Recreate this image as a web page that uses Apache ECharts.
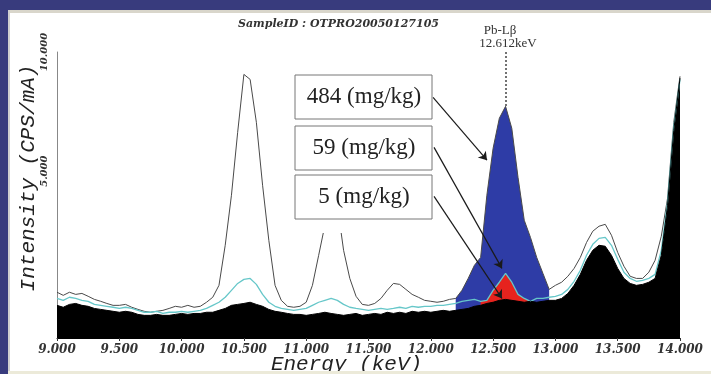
<!DOCTYPE html>
<html>
<head>
<meta charset="utf-8">
<script src="https://cdn.jsdelivr.net/npm/echarts@6/dist/echarts.min.js"></script>
<style>
  html, body { margin: 0; padding: 0; background: #fff; }
  #chart { width: 711px; height: 374px; }
</style>
</head>
<body>
<div id="chart"></div>
<script>
// energy channels (keV)
const energy = [
  9.00, 9.05, 9.10, 9.15, 9.20, 9.25, 9.30, 9.35, 9.40, 9.45,
  9.50, 9.55, 9.60, 9.65, 9.70, 9.75, 9.80, 9.85, 9.90, 9.95,
  10.00, 10.05, 10.10, 10.15, 10.20, 10.25, 10.30, 10.35, 10.40, 10.45,
  10.50, 10.55, 10.60, 10.65, 10.70, 10.75, 10.80, 10.85, 10.90, 10.95,
  11.00, 11.05, 11.10, 11.15, 11.20, 11.25, 11.30, 11.35, 11.40, 11.45,
  11.50, 11.55, 11.60, 11.65, 11.70, 11.75, 11.80, 11.85, 11.90, 11.95,
  12.00, 12.05, 12.10, 12.15, 12.20, 12.25, 12.30, 12.35, 12.40, 12.45,
  12.50, 12.55, 12.60, 12.65, 12.70, 12.75, 12.80, 12.85, 12.90, 12.95,
  13.00, 13.05, 13.10, 13.15, 13.20, 13.25, 13.30, 13.35, 13.40, 13.45,
  13.50, 13.55, 13.60, 13.65, 13.70, 13.75, 13.80, 13.85, 13.90, 13.95,
  14.00
];

// 484 mg/kg spectrum (grey line)
const spec484 = [
  -0.08, -0.21, -0.08, -0.17, -0.13, -0.25, -0.38, -0.46, -0.55, -0.63,
  -0.63, -0.59, -0.71, -0.80, -0.88, -0.92, -0.88, -0.84, -0.76, -0.67,
  -0.71, -0.63, -0.71, -0.67, -0.50, -0.29, 0.21, 1.89, 3.99, 6.63,
  9.06, 8.85, 7.05, 4.41, 2.10, 0.21, -0.42, -0.67, -0.71, -0.67,
  -0.50, 0.21, 1.47, 2.73, 3.99, 3.57, 1.68, 0.50, -0.25, -0.59,
  -0.63, -0.55, -0.34, 0.00, 0.29, 0.25, 0.04, -0.17, -0.29, -0.42,
  -0.46, -0.50, -0.46, -0.38, -0.34, 0.00, 0.50, 1.05, 1.38, 3.99,
  5.96, 7.22, 7.72, 6.80, 4.74, 2.94, 2.22, 1.38, 0.71, 0.04,
  0.21, 0.34, 0.59, 0.92, 1.38, 2.01, 2.48, 2.69, 2.77, 2.31,
  1.59, 1.01, 0.59, 0.50, 0.50, 0.76, 1.26, 2.27, 3.86, 7.05,
  8.98
];

// 59 mg/kg spectrum (cyan line)
const spec59 = [
  -0.34, -0.42, -0.29, -0.34, -0.42, -0.46, -0.59, -0.63, -0.67, -0.71,
  -0.76, -0.71, -0.76, -0.84, -0.92, -0.92, -0.88, -0.97, -0.92, -0.92,
  -0.88, -0.92, -0.88, -0.84, -0.76, -0.63, -0.50, -0.29, 0.00, 0.29,
  0.46, 0.50, 0.25, -0.17, -0.50, -0.67, -0.76, -0.80, -0.84, -0.80,
  -0.76, -0.63, -0.50, -0.42, -0.34, -0.42, -0.59, -0.71, -0.76, -0.80,
  -0.84, -0.80, -0.76, -0.80, -0.76, -0.71, -0.76, -0.67, -0.71, -0.67,
  -0.67, -0.63, -0.63, -0.59, -0.55, -0.46, -0.42, -0.38, -0.46, -0.42,
  0.00, 0.34, 0.71, 0.34, -0.17, -0.34, -0.46, -0.34, -0.34, -0.29,
  -0.25, -0.17, 0.04, 0.38, 0.84, 1.47, 1.93, 2.18, 2.22, 1.89,
  1.30, 0.76, 0.50, 0.38, 0.42, 0.50, 0.67, 1.68, 3.69, 6.84,
  8.85
];

// 5 mg/kg spectrum (black fill)
const spec5 = [
  -0.63, -0.71, -0.59, -0.55, -0.63, -0.67, -0.76, -0.80, -0.84, -0.88,
  -0.92, -0.88, -0.92, -1.01, -1.05, -1.05, -1.01, -1.05, -1.05, -1.01,
  -0.97, -1.01, -0.97, -0.97, -0.92, -0.92, -0.84, -0.76, -0.63, -0.59,
  -0.55, -0.50, -0.59, -0.67, -0.80, -0.88, -0.92, -0.97, -1.01, -1.01,
  -1.05, -1.01, -0.97, -0.92, -0.97, -1.01, -1.05, -1.01, -0.97, -1.05,
  -1.01, -0.97, -1.01, -0.92, -0.97, -0.92, -0.97, -0.88, -0.92, -0.88,
  -0.92, -0.88, -0.84, -0.88, -0.84, -0.80, -0.76, -0.67, -0.63, -0.55,
  -0.50, -0.42, -0.38, -0.42, -0.46, -0.50, -0.46, -0.50, -0.46, -0.42,
  -0.42, -0.34, -0.13, 0.21, 0.67, 1.26, 1.68, 1.89, 1.85, 1.47,
  0.92, 0.50, 0.29, 0.21, 0.25, 0.34, 0.50, 1.47, 3.57, 6.71,
  8.90
];

// Pb-Lb peak regions
const peak484Energy = [12.20, 12.25, 12.30, 12.35, 12.40, 12.45, 12.50, 12.55, 12.60, 12.65, 12.70, 12.75, 12.80, 12.85, 12.90, 12.95];
const peak484 = [-0.34, 0.00, 0.50, 1.05, 1.38, 3.99, 5.96, 7.22, 7.72, 6.80, 4.74, 2.94, 2.22, 1.38, 0.71, 0.04];
const peak59Energy = [12.40, 12.45, 12.50, 12.55, 12.60, 12.65, 12.70, 12.75, 12.80];
const peak59 = [-0.46, -0.42, 0.00, 0.34, 0.71, 0.34, -0.17, -0.34, -0.46];

const boxLabels = ['484 (mg/kg)', '59 (mg/kg)', '5 (mg/kg)'];
const xTicks = [9, 9.5, 10, 10.5, 11, 11.5, 12, 12.5, 13, 13.5, 14];
const yTicks = [5, 10];

const pairs = (xs, ys) => xs.map((x, i) => [x, ys[i]]);

const chart = echarts.init(document.getElementById('chart'), null, { renderer: 'canvas' });

const labelFont = { fontFamily: 'DejaVu Serif', fontStyle: 'italic', fontWeight: 'bold', color: '#333' };

// arrows from the label boxes to the peaks (data coords)
const arrows = [
  [[12.018, 8.10], [12.451, 5.46]],
  [[12.026, 6.00], [12.571, 0.92]],
  [[12.026, 3.94], [12.571, -0.34]]
];

const boxTop = [75, 126, 175];

const graphics = [
  // frame
  { type: 'rect', shape: { x: 0, y: 0, width: 711, height: 10 }, style: { fill: '#383b7d' }, z: 200 },
  { type: 'rect', shape: { x: 0, y: 10, width: 711, height: 3 }, style: { fill: '#d9d6cb' }, z: 200 },
  { type: 'rect', shape: { x: 0, y: 0, width: 8, height: 374 }, style: { fill: '#383b7d' }, z: 200 },
  { type: 'rect', shape: { x: 8, y: 10, width: 2, height: 364 }, style: { fill: '#cfcfcf' }, z: 200 },
  { type: 'rect', shape: { x: 8, y: 371, width: 703, height: 3 }, style: { fill: '#ecead9' }, z: 200 },
  // texts at top
  { type: 'text', x: 238, y: 24, style: { text: 'SampleID : OTPRO20050127105', font: 'italic bold 11px "DejaVu Serif"', fill: '#333', textVerticalAlign: 'middle' }, z: 110 },
  { type: 'text', x: 500, y: 31, style: { text: 'Pb-L\u03b2', font: '13px "Liberation Serif"', fill: '#333', textAlign: 'center', textVerticalAlign: 'middle' }, z: 110 },
  { type: 'text', x: 508, y: 44, style: { text: '12.612keV', font: '13px "Liberation Serif"', fill: '#333', textAlign: 'center', textVerticalAlign: 'middle' }, z: 110 },
  { type: 'line', shape: { x1: 506, y1: 52, x2: 506, y2: 106 }, style: { stroke: '#444', lineWidth: 1.5, lineDash: [2, 2] }, z: 110 },
  // white gap under the boxes
  { type: 'rect', shape: { x: 300, y: 218, width: 60, height: 15 }, style: { fill: '#fff' }, z: 99 }
];

boxLabels.forEach((t, i) => {
  graphics.push({ type: 'rect', shape: { x: 295, y: boxTop[i], width: 137, height: 44 }, style: { fill: '#fff', stroke: '#777', lineWidth: 1 }, z: 100 });
  graphics.push({ type: 'text', x: 364, y: boxTop[i] + 22, style: { text: t, font: '23px "Liberation Serif"', fill: '#222', textAlign: 'center', textVerticalAlign: 'middle' }, z: 101 });
});

const option = {
  animation: false,
  backgroundColor: '#fff',
  grid: { left: 57, right: 31, top: 52, bottom: 36, outerBoundsMode: 'none' },
  xAxis: {
    type: 'value',
    min: 9,
    max: 14,
    interval: 0.5,
    name: 'Energy (keV)',
    nameLocation: 'middle',
    nameGap: 16,
    nameMoveOverlap: false,
    nameTextStyle: { fontFamily: 'Liberation Mono', fontStyle: 'italic', fontSize: 21, color: '#222', padding: [0, 44, 0, 0] },
    axisLine: { onZero: false, lineStyle: { color: '#000' } },
    axisTick: { show: true, length: 3, lineStyle: { color: '#333' } },
    axisLabel: Object.assign({ fontSize: 12, margin: 6, formatter: v => xTicks.includes(v) ? v.toFixed(3) : '' }, labelFont),
    splitLine: { show: false }
  },
  yAxis: {
    type: 'value',
    min: -2,
    max: 10,
    interval: 1,
    name: 'Intensity (CPS/mA)',
    nameLocation: 'middle',
    nameRotate: 90,
    nameGap: 18,
    nameMoveOverlap: false,
    nameTextStyle: { fontFamily: 'Liberation Mono', fontStyle: 'italic', fontSize: 21, color: '#222', padding: [0, 0, 0, 34] },
    axisLine: { show: true, onZero: false, lineStyle: { color: '#888' } },
    axisTick: { show: false },
    axisLabel: Object.assign({ fontSize: 10, rotate: 90, margin: 8, formatter: v => yTicks.includes(v) ? v.toFixed(3) : '' }, labelFont),
    splitLine: { show: false }
  },
  graphic: graphics,
  series: [
    {
      name: '484 mg/kg', type: 'line', data: pairs(energy, spec484), showSymbol: false, silent: true,
      lineStyle: { color: '#4a4a4a', width: 1 }
    },
    {
      name: '59 mg/kg', type: 'line', data: pairs(energy, spec59), showSymbol: false, silent: true,
      lineStyle: { color: '#66c7c9', width: 1.3 }
    },
    {
      name: '484 Pb-Lb', type: 'line', data: pairs(peak484Energy, peak484), showSymbol: false, silent: true,
      lineStyle: { width: 0 }, areaStyle: { color: '#2e3ca6', opacity: 1, origin: 'start' }
    },
    {
      name: '59 Pb-Lb', type: 'line', data: pairs(peak59Energy, peak59), showSymbol: false, silent: true,
      lineStyle: { width: 0 }, areaStyle: { color: '#e6231e', opacity: 1, origin: 'start' }
    },
    {
      name: '5 mg/kg', type: 'line', data: pairs(energy, spec5), showSymbol: false, silent: true,
      lineStyle: { color: '#000', width: 1 }, areaStyle: { color: '#000', opacity: 1, origin: 'start' },
      markLine: {
        silent: true,
        symbol: ['none', 'arrow'],
        symbolSize: 8,
        label: { show: false },
        lineStyle: { color: '#1a1a1a', width: 1.2, type: 'solid' },
        data: arrows.map(a => [{ coord: a[0] }, { coord: a[1] }])
      }
    }
  ]
};

chart.setOption(option);
</script>
</body>
</html>
